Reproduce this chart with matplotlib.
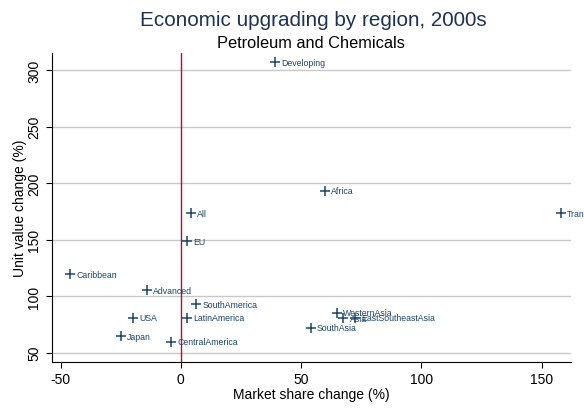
import matplotlib
matplotlib.use('Agg')
import matplotlib.pyplot as plt

plt.rcParams['font.family'] = ['Liberation Sans', 'DejaVu Sans']
plt.rcParams['axes.unicode_minus'] = False

regions = ['Developing', 'Africa', 'All', 'Transition', 'EU', 'Caribbean',
           'Advanced', 'SouthAmerica', 'USA', 'LatinAmerica', 'Japan',
           'CentralAmerica', 'WesternAsia', 'Asia', 'EastSoutheastAsia',
           'SouthAsia']
share_change = [39.2, 59.9, 4.3, 158.0, 2.6, -46.0, -14.0, 6.4, -20.0, 2.4,
                -24.9, -3.9, 64.7, 67.5, 72.3, 53.9]
value_change = [306.8, 193.2, 173.5, 173.3, 148.5, 119.5, 105.3, 93.0, 80.8,
                80.8, 64.5, 59.6, 85.2, 80.5, 81.0, 71.9]

navy = '#1a476f'

fig = plt.figure(figsize=(5.84, 4.1), dpi=100)
ax = fig.add_axes([0.0885, 0.1154, 0.8885, 0.7526])

ax.scatter(share_change, value_change, marker='+', s=45, color=navy,
           linewidths=1.1, zorder=3)
for name, x, y in zip(regions, share_change, value_change):
    ax.annotate(name, (x, y), xytext=(4.5, 0), textcoords='offset points',
                fontsize=6.3, color=navy, va='center', ha='left',
                annotation_clip=False)

ax.axvline(0, color='#c10534', lw=1, zorder=2)

ax.set_xlim(-53.7, 162)
ax.set_ylim(42, 315)
ax.set_xticks([-50, 0, 50, 100, 150])
ax.set_yticks([50, 100, 150, 200, 250, 300])
ax.grid(axis='y', color='#c8c8c8', lw=1)
ax.set_axisbelow(True)
for s in ['top', 'right']:
    ax.spines[s].set_visible(False)
ax.tick_params(labelsize=10, length=4)
plt.setp(ax.get_yticklabels(), rotation=90, va='center')
ax.set_xlabel('Market share change (%)', fontsize=10, labelpad=1)
ax.set_ylabel('Unit value change (%)', fontsize=10, labelpad=0)

fig.text(0.536, 0.951, 'Economic upgrading by region, 2000s', ha='center',
         va='center', fontsize=14.9, color='#1e3253')
fig.text(0.533, 0.894, 'Petroleum and Chemicals', ha='center', va='center',
         fontsize=11.8, color='black')

fig.savefig('out.png', dpi=100)
